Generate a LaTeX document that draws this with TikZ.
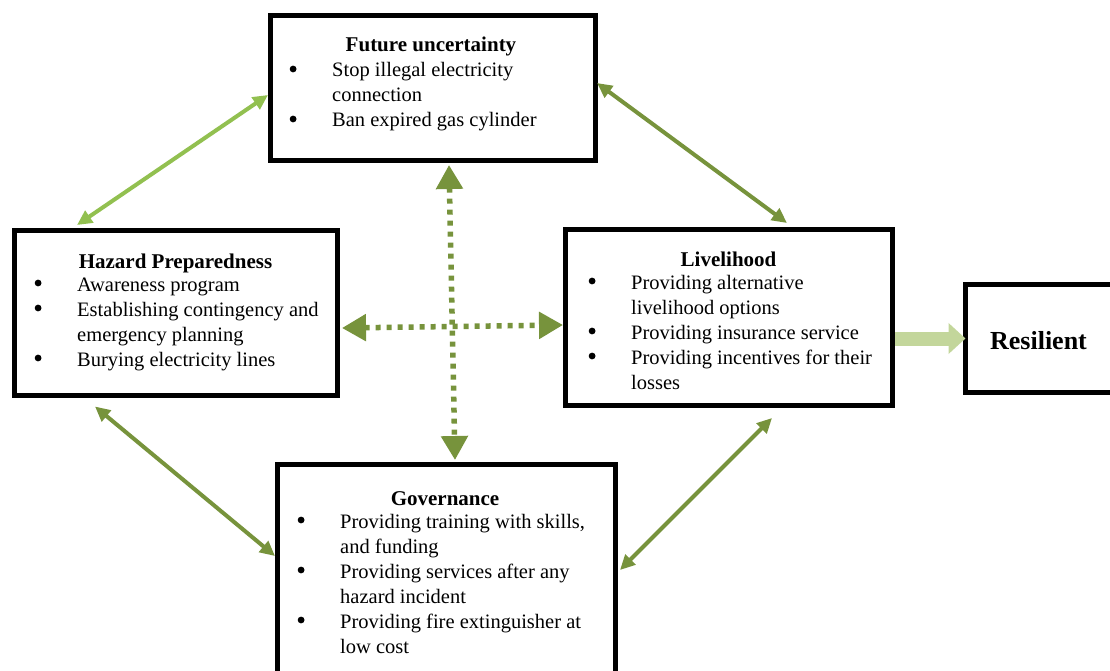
\documentclass[tikz,border=0pt]{standalone}
\usepackage{fontspec}
\setmainfont{Liberation Serif}
\usetikzlibrary{arrows.meta}
\definecolor{verdeclaro}{RGB}{146,192,80}
\definecolor{verdeoscuro}{RGB}{119,147,60}
\definecolor{verdepalido}{RGB}{195,214,155}
\tikzset{
	every node/.style={font=\fontsize{20.5}{25}\selectfont}, % Letra de todos los nodos
	caja/.style={draw, line width=5pt, inner sep=0pt, outer sep=0pt}, % Marcos de los bloques
	titulo/.style={anchor=base, inner sep=0pt, font=\bfseries\fontsize{21}{25}\selectfont}, % Encabezado de cada bloque
	lista/.style={anchor=base west, inner sep=0pt}, % Lista con vinetas
	flecha/.style={<->, line width=4pt, >={Triangle[length=15pt,width=14pt]}}, % Flechas dobles
	punteada/.style={<->, verdeoscuro, line width=5.5pt, dash pattern=on 5pt off 6pt,
		>={Triangle[length=24pt,width=26pt]}}, % Cruz punteada central
	salida/.style={-{Triangle[length=17pt,width=30pt]}, line width=14pt, verdepalido,
		shorten <=2.5pt} % Flecha hacia el resultado
}
\newcommand{\punto}{\tikz[baseline=0pt]\fill (3.5pt,8pt) circle[radius=3.4pt];}
\newcommand{\vinetas}[1]{\begin{tabular}[t]{@{}p{42.5pt}@{}l@{}}#1\end{tabular}}

\begin{document}
\begin{tikzpicture}[x=1pt, y=-1pt]
	\useasboundingbox (0,0) rectangle (1110,671);
	\clip (0,0) rectangle (1110,671);
	% bloques
	\node[caja, minimum width=325pt, minimum height=145pt] (fut) at (432.5,88) {};
	\node[caja, minimum width=323pt, minimum height=165pt] (haz) at (176,313) {};
	\node[caja, minimum width=327pt, minimum height=176pt] (liv) at (729,317.5) {};
	\node[caja, minimum width=338pt, minimum height=231pt] (gov) at (446.5,580) {};
	\node[caja, minimum width=151pt, minimum height=108pt] (res) at (1041,338.5) {};
	% textos
	\node[titulo] (futT) at (431,52) {Future uncertainty};
	\node[lista] (futL) at (289.5,77) {\vinetas{
		\punto & Stop illegal electricity\\
		& connection\\
		\punto & Ban expired gas cylinder}};
	\node[titulo] (hazT) at (175.5,268) {Hazard Preparedness};
	\node[lista] (hazL) at (34.5,291) {\vinetas{
		\punto & Awareness program\\
		\punto & Establishing contingency and\\
		& emergency planning\\
		\punto & Burying electricity lines}};
	\node[titulo] (livT) at (728.5,266) {Livelihood};
	\node[lista] (livL) at (588.5,289) {\vinetas{
		\punto & Providing alternative\\
		& livelihood options\\
		\punto & Providing insurance service\\
		\punto & Providing incentives for their\\
		& losses}};
	\node[titulo] (govT) at (445,505) {Governance};
	\node[lista] (govL) at (297.5,528) {\vinetas{
		\punto & Providing training with skills,\\
		& and funding\\
		\punto & Providing services after any\\
		& hazard incident\\
		\punto & Providing fire extinguisher at\\
		& low cost}};
	\node[anchor=base, inner sep=0pt, font=\bfseries\fontsize{26}{30}\selectfont] (resT) at (1038.5,349) {Resilient};
	% conexiones
	\draw[flecha, verdeclaro] ([xshift=-2pt,yshift=-7pt]fut.west) -- ([xshift=-99pt,yshift=5.5pt]haz.north);
	\draw[flecha, verdeoscuro] ([xshift=2pt,yshift=5pt]fut.east) -- ([xshift=58pt,yshift=6.5pt]liv.north);
	\draw[flecha, verdeoscuro] ([xshift=-81pt,yshift=-11pt]haz.south) -- ([xshift=-2.5pt,yshift=24pt]gov.west);
	\draw[flecha, verdeoscuro] ([xshift=43pt,yshift=-12.5pt]liv.south) -- ([xshift=4.5pt,yshift=10pt]gov.east);
	\draw[punteada] ([xshift=16.5pt,yshift=-4.5pt]fut.south) -- ([xshift=8.5pt,yshift=4.5pt]gov.north);
	\draw[punteada] ([xshift=4.5pt,yshift=-15pt]haz.east) -- ([xshift=-2.5pt,yshift=-7.5pt]liv.west);
	\draw[salida] (liv.east |- res.west) -- (res.west);
\end{tikzpicture}
\end{document}
